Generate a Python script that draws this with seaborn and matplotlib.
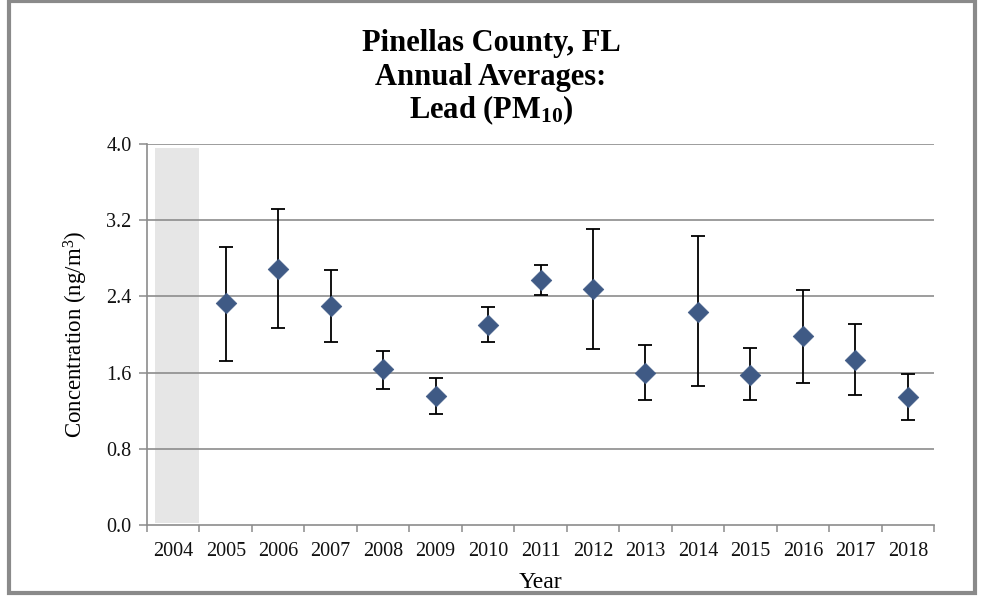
import numpy as np
import pandas as pd
import matplotlib
matplotlib.use("Agg")
import matplotlib.pyplot as plt
from matplotlib.patches import Rectangle
import seaborn as sns

years = ["2004", "2005", "2006", "2007", "2008", "2009", "2010", "2011",
         "2012", "2013", "2014", "2015", "2016", "2017", "2018"]
mean = [np.nan, 2.33, 2.69, 2.30, 1.64, 1.355, 2.10, 2.57,
        2.48, 1.60, 2.24, 1.58, 1.98, 1.73, 1.34]
upper = [np.nan, 2.92, 3.32, 2.68, 1.83, 1.54, 2.29, 2.73,
         3.11, 1.89, 3.03, 1.86, 2.47, 2.11, 1.59]
lower = [np.nan, 1.72, 2.07, 1.92, 1.43, 1.17, 1.92, 2.41,
         1.85, 1.31, 1.46, 1.31, 1.49, 1.37, 1.10]
yticks = [0.0, 0.8, 1.6, 2.4, 3.2, 4.0]

df = pd.DataFrame({"year": years, "mean": mean, "upper": upper, "lower": lower})
df["pos"] = np.arange(len(years))

sns.set_theme(style="white")
plt.rcParams["font.family"] = ["Liberation Serif", "DejaVu Serif"]
plt.rcParams["mathtext.fontset"] = "custom"
plt.rcParams["mathtext.rm"] = "Liberation Serif"
plt.rcParams["mathtext.bf"] = "Liberation Serif:bold"
plt.rcParams["mathtext.it"] = "Liberation Serif:italic"
plt.rcParams["text.color"] = "black"
plt.rcParams["axes.labelcolor"] = "black"
plt.rcParams["xtick.labelcolor"] = "#111111"
plt.rcParams["ytick.labelcolor"] = "#111111"

W, H = 982, 598
fig = plt.figure(figsize=(W / 100, H / 100), dpi=100)
ax = fig.add_axes([147 / W, (H - 525) / H, (934 - 147) / W, (525 - 144) / H])

grid_c = "#8c8c8c"
for v in yticks[1:]:
    ax.axhline(v, color=grid_c, lw=1.2, zorder=1)

# shaded no-data band for 2004
ax.axvspan(-0.35, 0.5, ymin=0.006, ymax=0.99, color="#e6e6e6", lw=0, zorder=0.5)

valid = df.dropna()
ax.errorbar(valid["pos"], valid["mean"],
            yerr=[valid["mean"] - valid["lower"], valid["upper"] - valid["mean"]],
            fmt="none", ecolor="black", elinewidth=1.3, capsize=5, capthick=1.3, zorder=3)
sns.scatterplot(data=valid, x="pos", y="mean", marker="D", s=110,
                color="#3F5A85", edgecolor="#3F5A85", linewidth=0.5, ax=ax, zorder=4)

ax.set_xlim(-0.5, len(years) - 0.5)
ax.set_ylim(0, 4.0)
ax.set_yticks(yticks)
ax.set_yticklabels([f"{v:.1f}" for v in yticks], fontsize=14.5)
ax.set_xticks(np.arange(len(years) + 1) - 0.5)
ax.set_xticklabels([])
ax.set_xticks(np.arange(len(years)), minor=True)
ax.set_xticklabels(years, minor=True, fontsize=14.5)
ax.tick_params(axis="x", which="major", length=5, width=1.1, color=grid_c, direction="out", bottom=True)
ax.tick_params(axis="x", which="minor", length=0, pad=12)
ax.tick_params(axis="y", length=6, width=1.1, color=grid_c, direction="out", left=True, pad=5)

for s in ["top", "right"]:
    ax.spines[s].set_visible(False)
for s in ["left", "bottom"]:
    ax.spines[s].set_color(grid_c)
    ax.spines[s].set_linewidth(1.2)

ax.set_xlabel("Year", fontsize=17, labelpad=8)
ax.set_ylabel(r"Concentration (ng/m$^3$)", fontsize=16.5, labelpad=12)

fig.text(0.5, 1 - 44 / H, "Pinellas County, FL", ha="center", va="center",
         fontsize=22, fontweight="bold")
fig.text(0.5, 1 - 77 / H, "Annual Averages:", ha="center", va="center",
         fontsize=22, fontweight="bold")
fig.text(0.5, 1 - 110 / H, r"Lead (PM$_{\mathbf{10}}$)", ha="center", va="center",
         fontsize=22, fontweight="bold")

fig.patches.append(Rectangle((9 / W, 5 / H), (975 - 9) / W, (597 - 5) / H,
                             transform=fig.transFigure, fill=False,
                             edgecolor="#8a8a8a", lw=3))

fig.savefig("out.png", dpi=100)
